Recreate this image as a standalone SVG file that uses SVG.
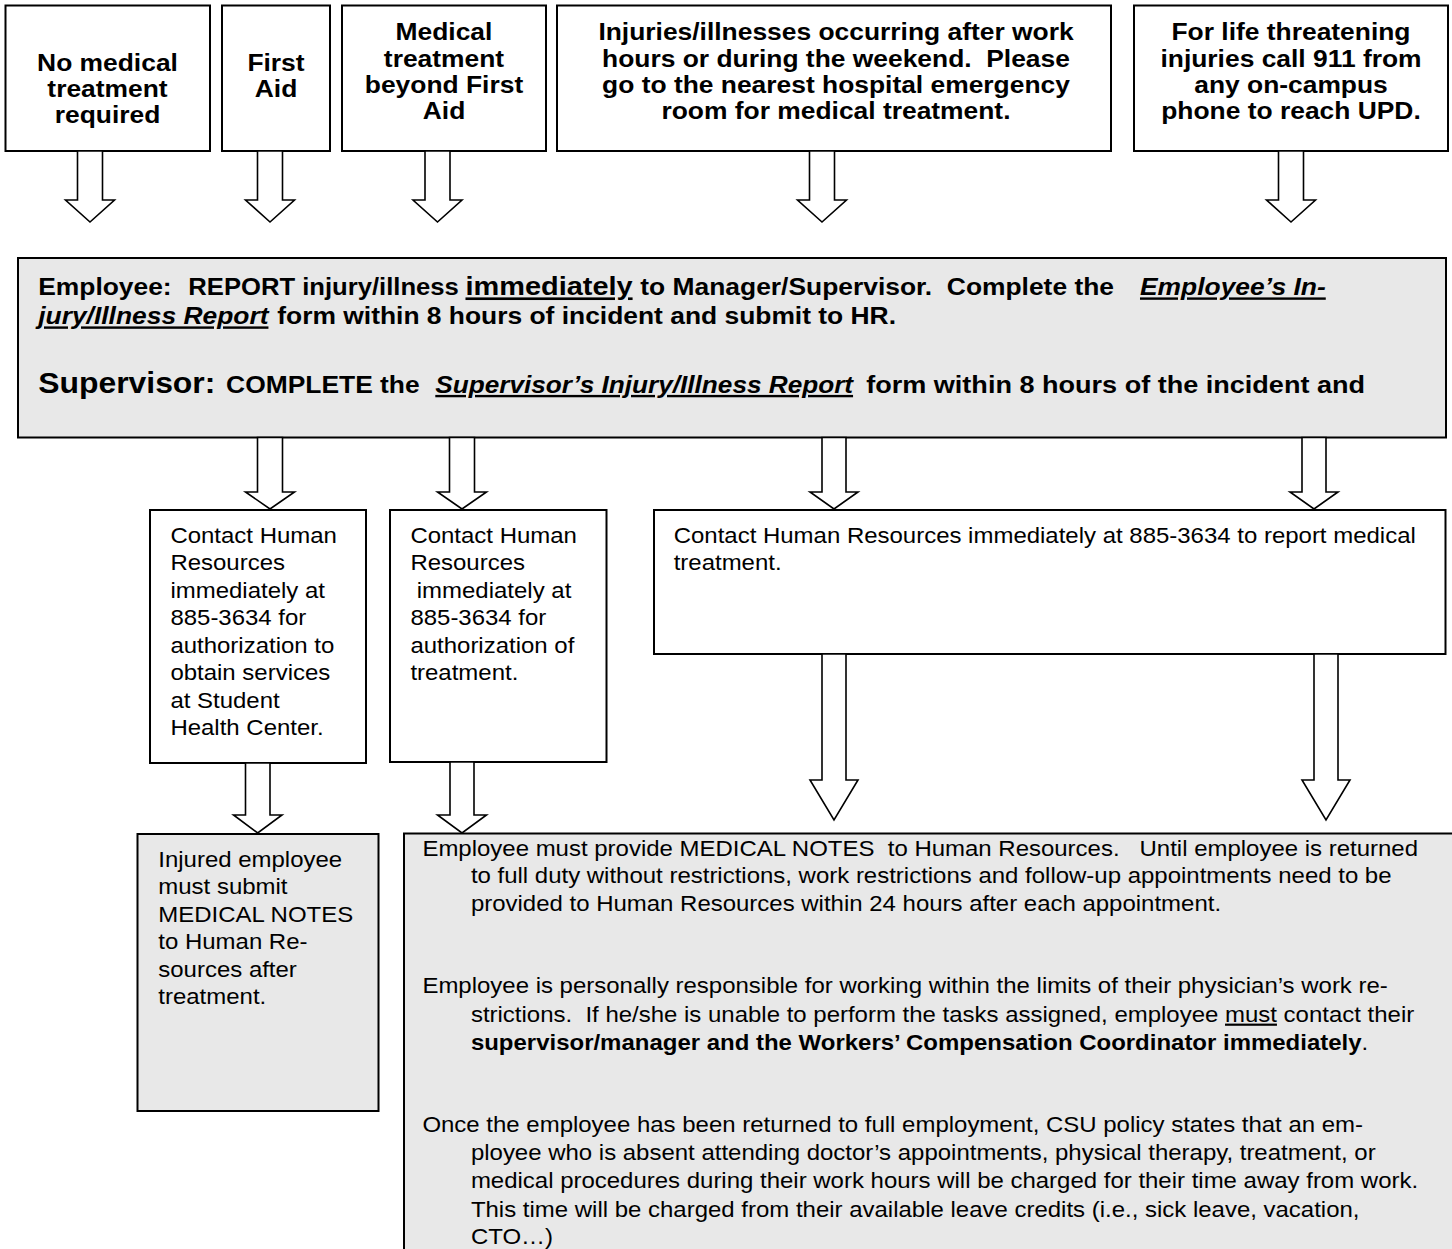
<svg xmlns="http://www.w3.org/2000/svg" width="1452" height="1249" viewBox="0 0 1452 1249">
<defs>
<style>
.box{fill:#fff;stroke:#000;stroke-width:2}
.gbox{fill:#e8e8e8;stroke:#000;stroke-width:2}
.arr{fill:#fff;stroke:#000;stroke-width:1.6;stroke-linejoin:miter}
text{font-family:"Liberation Sans",Arial,Helvetica,sans-serif;fill:#000}
.tb{font-weight:bold;font-size:24px;text-anchor:middle}
.tg{font-weight:bold;font-size:24px}
.tr{font-size:21.8px}
.bd{font-weight:bold}
.it{font-style:italic}
.u{text-decoration:underline}
</style>
</defs>
<rect x="0" y="0" width="1452" height="1249" fill="#fff"/>

<g id="n-no-treatment">
<rect class="box" x="5.5" y="5.5" width="204.5" height="145.5"/>
<g transform="scale(1.1 1)"><text class="tb" x="97.73" y="71">No medical</text><text class="tb" x="97.73" y="97">treatment</text><text class="tb" x="97.73" y="123">required</text></g>
</g>
<g id="n-first-aid">
<rect class="box" x="222" y="5.5" width="108" height="145.5"/>
<g transform="scale(1.1 1)"><text class="tb" x="250.91" y="71">First</text><text class="tb" x="250.91" y="97">Aid</text></g>
</g>
<g id="n-beyond">
<rect class="box" x="342" y="5.5" width="204" height="145.5"/>
<g transform="scale(1.1 1)"><text class="tb" x="403.64" y="40.5">Medical</text><text class="tb" x="403.64" y="67">treatment</text><text class="tb" x="403.64" y="93.3">beyond First</text><text class="tb" x="403.64" y="119.5">Aid</text></g>
</g>
<g id="n-after-hours">
<rect class="box" x="557" y="5.5" width="554" height="145.5"/>
<g transform="scale(1.1 1)"><text class="tb" x="760" y="40.5">Injuries/illnesses occurring after work</text><text class="tb" x="760" y="67" xml:space="preserve">hours or during the weekend.  Please</text><text class="tb" x="760" y="93.3">go to the nearest hospital emergency</text><text class="tb" x="760" y="119.5">room for medical treatment.</text></g>
</g>
<g id="n-life">
<rect class="box" x="1134" y="5.5" width="314" height="145.5"/>
<g transform="scale(1.1 1)"><text class="tb" x="1173.64" y="40.5">For life threatening</text><text class="tb" x="1173.64" y="67">injuries call 911 from</text><text class="tb" x="1173.64" y="93.3">any on-campus</text><text class="tb" x="1173.64" y="119.5">phone to reach UPD.</text></g>
</g>

<g id="n-report">
<rect class="gbox" x="18" y="258" width="1428" height="179.5"/>
<g transform="scale(1.1 1)">
<text class="tg" y="295.5" xml:space="preserve"><tspan x="34.73">Employee:</tspan><tspan x="171.18" style="font-size:23.3px">REPORT injury/illness</tspan><tspan x="423.18" class="u" style="font-size:26.3px">immediately</tspan><tspan x="575.45"> to Manager/Supervisor.  Complete the</tspan><tspan x="1036.36" class="it u">Employee’s In-</tspan></text>
<text class="tg" y="324.5" xml:space="preserve"><tspan x="34.73" class="it u">jury/Illness Report</tspan><tspan x="245.45"> form within 8 hours of incident and submit to HR.</tspan></text>
<text class="tg" y="393" xml:space="preserve"><tspan x="34.73" style="font-size:29px">Supervisor:</tspan><tspan x="198.9"> COMPLETE the</tspan><tspan x="395.73" class="it u" style="font-size:23.8px">Supervisor’s Injury/Illness Report</tspan><tspan x="780.64" style="font-size:24.6px"> form within 8 hours of the incident and</tspan></text>
</g>
</g>

<g id="n-hr-student">
<rect class="box" x="150" y="510" width="216" height="253"/>
<g transform="scale(1.1 1)">
<text class="tr" x="154.9" y="543">Contact Human</text>
<text class="tr" x="154.9" y="570.5">Resources</text>
<text class="tr" x="154.9" y="598">immediately at</text>
<text class="tr" x="154.9" y="625.5">885-3634 for</text>
<text class="tr" x="154.9" y="653">authorization to</text>
<text class="tr" x="154.9" y="680.5">obtain services</text>
<text class="tr" x="154.9" y="708">at Student</text>
<text class="tr" x="154.9" y="735.5">Health Center.</text>
</g>
</g>
<g id="n-hr-auth">
<rect class="box" x="390" y="510" width="216.5" height="252"/>
<g transform="scale(1.1 1)">
<text class="tr" x="373.1" y="543">Contact Human</text>
<text class="tr" x="373.1" y="570.5">Resources</text>
<text class="tr" x="378.9" y="598">immediately at</text>
<text class="tr" x="373.1" y="625.5">885-3634 for</text>
<text class="tr" x="373.1" y="653">authorization of</text>
<text class="tr" x="373.1" y="680.5">treatment.</text>
</g>
</g>
<g id="n-hr-report">
<rect class="box" x="654" y="510" width="791.5" height="144"/>
<g transform="scale(1.1 1)">
<text class="tr" x="612.45" y="543">Contact Human Resources immediately at 885-3634 to report medical</text>
<text class="tr" x="612.45" y="570.5">treatment.</text>
</g>
</g>

<g id="n-notes-student">
<rect class="gbox" x="137.5" y="834" width="241" height="277"/>
<g transform="scale(1.1 1)">
<text class="tr" x="143.9" y="866.7">Injured employee</text>
<text class="tr" x="143.9" y="894.2">must submit</text>
<text class="tr" x="143.9" y="921.7">MEDICAL NOTES</text>
<text class="tr" x="143.9" y="949.2">to Human Re-</text>
<text class="tr" x="143.9" y="976.7">sources after</text>
<text class="tr" x="143.9" y="1004.2">treatment.</text>
</g>
</g>
<g id="n-notes-main">
<rect class="gbox" x="404" y="833.5" width="1100" height="500"/>
<g transform="scale(1.1 1)">
<text class="tr" x="384" y="856" xml:space="preserve">Employee must provide MEDICAL NOTES  to Human Resources.   Until employee is returned</text>
<text class="tr" x="428.1" y="883.5">to full duty without restrictions, work restrictions and follow-up appointments need to be</text>
<text class="tr" x="428.1" y="911.5">provided to Human Resources within 24 hours after each appointment.</text>
<text class="tr" x="384" y="993.3">Employee is personally responsible for working within the limits of their physician’s work re-</text>
<text class="tr" x="428.1" y="1021.7" xml:space="preserve">strictions.  If he/she is unable to perform the tasks assigned, employee <tspan class="u">must</tspan> contact their</text>
<text class="tr" x="428.1" y="1050"><tspan class="bd">supervisor/manager and the Workers’ Compensation Coordinator immediately</tspan>.</text>
<text class="tr" x="384" y="1132.3">Once the employee has been returned to full employment, CSU policy states that an em-</text>
<text class="tr" x="428.1" y="1160">ployee who is absent attending doctor’s appointments, physical therapy, treatment, or</text>
<text class="tr" x="428.1" y="1188.3">medical procedures during their work hours will be charged for their time away from work.</text>
<text class="tr" x="428.1" y="1216.7">This time will be charged from their available leave credits (i.e., sick leave, vacation,</text>
<text class="tr" x="428.1" y="1244">CTO…)</text>
</g>
</g>

<g id="connectors">
<polygon class="arr" points="77.5,151 102.5,151 102.5,200 114.5,200 90,222 65.5,200 77.5,200"/>
<polygon class="arr" points="257.5,151 282.5,151 282.5,200 294.5,200 270,222 245.5,200 257.5,200"/>
<polygon class="arr" points="425,151 450,151 450,200 462,200 437.5,222 413,200 425,200"/>
<polygon class="arr" points="809.5,151 834.5,151 834.5,200 846.5,200 822,222 797.5,200 809.5,200"/>
<polygon class="arr" points="1278.5,151 1303.5,151 1303.5,200 1315.5,200 1291,222 1266.5,200 1278.5,200"/>

<polygon class="arr" points="257.5,437.5 282.5,437.5 282.5,492 294.5,492 270,509 245.5,492 257.5,492"/>
<polygon class="arr" points="449.5,437.5 474.5,437.5 474.5,492 486.5,492 462,509 437.5,492 449.5,492"/>
<polygon class="arr" points="822,437.5 846,437.5 846,492 858,492 834,509 810,492 822,492"/>
<polygon class="arr" points="1302,437.5 1326,437.5 1326,492 1338,492 1314,509 1290,492 1302,492"/>

<polygon class="arr" points="245.5,763 270,763 270,815 282,815 257.7,833 233.5,815 245.5,815"/>
<polygon class="arr" points="450,762 474,762 474,815 486.5,815 462,833 437.5,815 450,815"/>
<polygon class="arr" points="822,654 846,654 846,780 858,780 834,820 810,780 822,780"/>
<polygon class="arr" points="1314,654 1338,654 1338,780 1350,780 1326,820 1302,780 1314,780"/>
</g>
</svg>
